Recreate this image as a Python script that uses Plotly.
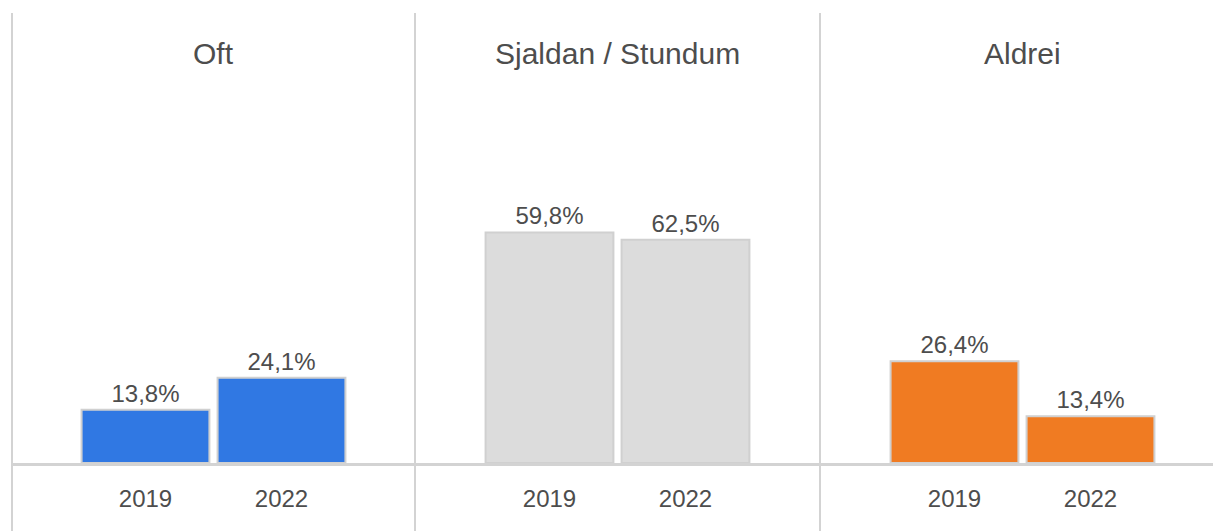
import plotly.graph_objects as go
from plotly.subplots import make_subplots

# ── data ──────────────────────────────────────────────────────────────────
groups = ["Oft", "Sjaldan / Stundum", "Aldrei"]
years = ["2019", "2022"]
# bar heights as drawn in the picture (percent scale)
heights_2019 = [13.8, 59.8, 26.4]
heights_2022 = [22.1, 57.9, 12.1]
# labels as printed on the bars
labels_2019 = ["13,8%", "59,8%", "26,4%"]
labels_2022 = ["24,1%", "62,5%", "13,4%"]
bar_colors = ["#3078E3", "#DCDCDC", "#F07B22"]

W, H = 1213, 531
FONT = "Arial, Liberation Sans, sans-serif"
TEXT = "#4d4d4d"
LINE = "#d3d3d3"

# panel edges in screen pixels
panel_left = [12, 415, 820]
panel_right = [415, 820, W]
unit_px = 136  # pixels between the two bar centres
baseline_px = 463
px_per_pct = 3.855

fig = make_subplots(rows=1, cols=3, shared_yaxes=False)

for i, g in enumerate(groups):
    fig.add_trace(go.Bar(
        x=years,
        y=[heights_2019[i], heights_2022[i]],
        text=[labels_2019[i], labels_2022[i]],
        textposition="outside",
        textfont={"size": 24, "color": TEXT, "family": FONT},
        marker={"color": bar_colors[i], "line": {"color": "#d0d0d0", "width": 2}},
        width=0.94,
        cliponaxis=False,
        hoverinfo="skip",
        showlegend=False,
    ), row=1, col=i + 1)

ydom_bottom = (H - baseline_px) / H
ytop = baseline_px / px_per_pct


def px_x(v):
    return v / W


def px_y(v):
    return 1 - v / H


for i in range(3):
    l, r = panel_left[i], panel_right[i]
    centre = l + 405 / 2 if i == 2 else (l + r) / 2
    c0 = centre - unit_px / 2
    lo = -(c0 - l) / unit_px
    hi = (r - c0) / unit_px
    fig.update_xaxes(
        domain=[px_x(l), px_x(r)], range=[lo, hi], type="category",
        showline=True, linecolor=LINE, linewidth=3,
        showgrid=False, zeroline=False, ticks="", ticklabelstandoff=12,
        tickfont={"size": 24, "color": TEXT, "family": FONT},
        row=1, col=i + 1,
    )
    fig.update_yaxes(
        domain=[ydom_bottom, 1], range=[0, ytop],
        visible=False, showgrid=False, zeroline=False,
        row=1, col=i + 1,
    )
    fig.add_annotation(
        x=px_x(centre), y=px_y(53), xref="paper", yref="paper",
        xanchor="center", yanchor="middle",
        text=groups[i], showarrow=False,
        font={"size": 30, "color": TEXT, "family": FONT},
    )
    fig.add_shape(
        type="line", xref="paper", yref="paper",
        x0=px_x(l), x1=px_x(l), y0=-0.05, y1=px_y(13),
        line={"color": LINE, "width": 2},
    )

fig.update_layout(
    width=W, height=H,
    margin={"l": 0, "r": 0, "t": 0, "b": 0},
    paper_bgcolor="white", plot_bgcolor="white",
    bargap=0.06,
)

fig.write_html(
    "out.html",
    config={"displayModeBar": False},
    post_script="document.body.style.margin='0';",
)
